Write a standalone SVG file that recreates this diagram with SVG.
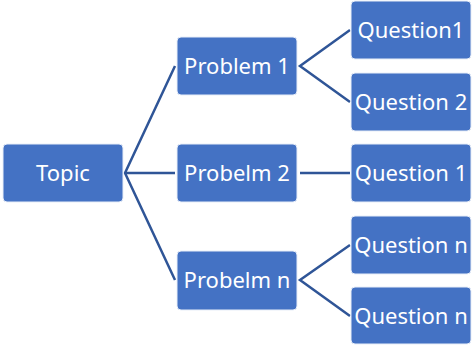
<svg xmlns="http://www.w3.org/2000/svg" width="472" height="345" viewBox="0 0 472 345">
<style>
.box{fill:#4472C4;stroke:#E8EEF8;stroke-width:1}
.t{font-family:"Noto Sans","Open Sans",sans-serif;font-size:22px;fill:#FFFFFF;text-anchor:middle;dominant-baseline:central}
.c{stroke:#2F5597;stroke-width:2.5;fill:none}
</style>
<g id="connectors">
<polyline class="c" points="175,66 125,173 175,280"/>
<line class="c" x1="125" y1="173" x2="175" y2="173"/>
<polyline class="c" points="350,30 300,66 350,102"/>
<line class="c" x1="300" y1="173" x2="350" y2="173"/>
<polyline class="c" points="350,245 300,280 350,316"/>
</g>
<g id="topic"><rect class="box" x="3" y="144" width="120" height="58" rx="4"/><text class="t" x="63" y="172">Topic</text></g>
<g id="problem1"><rect class="box" x="177" y="37" width="120" height="58" rx="4"/><text class="t" x="237" y="65">Problem 1</text></g>
<g id="problem2"><rect class="box" x="177" y="144" width="120" height="58" rx="4"/><text class="t" x="237" y="172">Probelm 2</text></g>
<g id="problemn"><rect class="box" x="177" y="251" width="120" height="59" rx="4"/><text class="t" x="237" y="279">Probelm n</text></g>
<g id="q1"><rect class="box" x="351" y="1" width="120" height="58" rx="4"/><text class="t" x="411" y="29">Question1</text></g>
<g id="q2"><rect class="box" x="351" y="73" width="120" height="58" rx="4"/><text class="t" x="411" y="101">Question 2</text></g>
<g id="q3"><rect class="box" x="351" y="144" width="120" height="58" rx="4"/><text class="t" x="411" y="172">Question 1</text></g>
<g id="q4"><rect class="box" x="351" y="216" width="120" height="58" rx="4"/><text class="t" x="411" y="244">Question n</text></g>
<g id="q5"><rect class="box" x="351" y="287" width="120" height="57" rx="4"/><text class="t" x="411" y="315">Question n</text></g>
</svg>
